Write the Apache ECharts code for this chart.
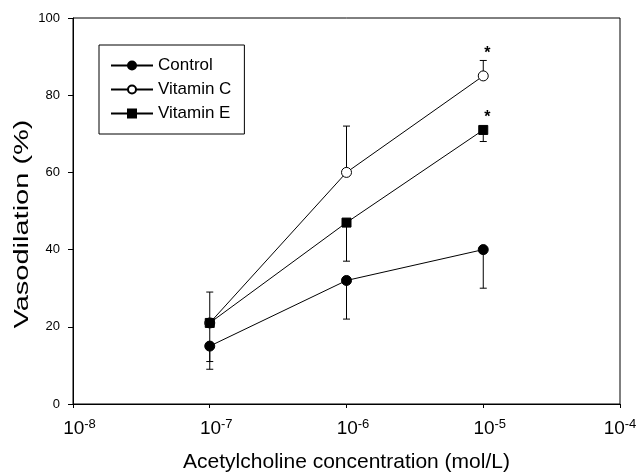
<!DOCTYPE html>
<html>
<head>
<meta charset="utf-8">
<script src="https://cdn.jsdelivr.net/npm/echarts@6/dist/echarts.min.js"></script>
<style>
html,body{margin:0;padding:0;background:#fff;}
#chart{width:639px;height:473px;}
</style>
</head>
<body>
<div id="chart"></div>
<script>
// ---- Data ----
const concentrations = [1e-7, 1e-6, 1e-5];
const controlMean = [15, 32, 40];
const controlErrDown = [6, 10, 10];
const vitCMean = [21, 60, 85];
const vitCErrUp = [8, 12, 4];
const vitEMean = [21, 47, 71];
const vitEErrDown = [10, 10, 3];
const starPoints = [[1e-5, 90.9], [1e-5, 74.1]];
const yTicks = [0, 20, 40, 60, 80, 100];
const xTickExponents = [-8, -7, -6, -5, -4];
const yTitle = 'Vasodilation (%)';
const xTitle = 'Acetylcholine concentration (mol/L)';

const FONT = '"Liberation Sans", Arial, sans-serif';

function pairs(xs, ys) { return xs.map((x, i) => [x, ys[i]]); }
function errData(xs, means, errs, dir) {
  return xs.map((x, i) => [x, means[i], means[i] + dir * errs[i]]);
}

function renderErr(params, api) {
  const p0 = api.coord([api.value(0), api.value(1)]);
  const p1 = api.coord([api.value(0), api.value(2)]);
  const hw = 3.5;
  return {
    type: 'group',
    children: [
      { type: 'line', shape: { x1: p0[0], y1: p0[1], x2: p1[0], y2: p1[1] }, style: { stroke: '#000', lineWidth: 1 } },
      { type: 'line', shape: { x1: p1[0] - hw, y1: p1[1], x2: p1[0] + hw, y2: p1[1] }, style: { stroke: '#000', lineWidth: 1 } }
    ]
  };
}

function renderStar(params, api) {
  const p = api.coord([api.value(0), api.value(1)]);
  return {
    type: 'text',
    x: p[0] + 4,
    y: p[1],
    style: {
      text: '*',
      font: 'bold 16px ' + FONT,
      fill: '#000',
      textAlign: 'center',
      textVerticalAlign: 'middle'
    }
  };
}

const lineCommon = {
  type: 'line',
  lineStyle: { color: '#000', width: 1 },
  emphasis: { disabled: true },
  animation: false,
  z: 3
};

const chart = echarts.init(document.getElementById('chart'), null, { renderer: 'canvas' });
chart.setOption({
  animation: false,
  backgroundColor: '#fff',
  textStyle: { fontFamily: FONT },
  grid: { left: 73, right: 19, top: 18, bottom: 69, show: true, borderColor: '#000', borderWidth: 1, outerBoundsMode: 'none', containLabel: false },
  legend: {
    orient: 'vertical',
    left: 99,
    top: 45,
    borderColor: '#000',
    borderWidth: 1,
    padding: [12, 13, 12, 11],
    itemGap: 7,
    itemWidth: 42,
    itemHeight: 10,
    textStyle: { fontFamily: FONT, fontSize: 17, lineHeight: 14, color: '#000' },
    data: ['Control', 'Vitamin C', 'Vitamin E'],
    selectedMode: false
  },
  graphic: [
    {
      type: 'text',
      x: 22,
      y: 224,
      rotation: Math.PI / 2,
      scaleX: 1.45,
      silent: true,
      style: {
        text: yTitle,
        font: '20px ' + FONT,
        fill: '#000',
        textAlign: 'center',
        textVerticalAlign: 'middle'
      }
    }
  ],
  xAxis: {
    type: 'log',
    logBase: 10,
    min: 1e-8,
    max: 1e-4,
    axisLine: { onZero: false, lineStyle: { color: '#000', width: 1 } },
    axisTick: { show: true, inside: false, length: 4, lineStyle: { color: '#000' } },
    minorTick: { show: false },
    splitLine: { show: false },
    axisLabel: {
      margin: 14,
      color: '#000',
      formatter: function (v) {
        const e = Math.round(Math.log10(v));
        const last = e === xTickExponents[xTickExponents.length - 1];
        return (last ? '{c|10}' : '{b|10}') + '{s|' + e + '}';
      },
      rich: {
        b: { fontFamily: FONT, fontSize: 19, color: '#000', padding: [0, 0, 0, 13], lineHeight: 20, verticalAlign: 'bottom' },
        c: { fontFamily: FONT, fontSize: 19, color: '#000', lineHeight: 20, verticalAlign: 'bottom' },
        s: { fontFamily: FONT, fontSize: 13, color: '#000', lineHeight: 20, verticalAlign: 'top' }
      }
    },
    name: xTitle,
    nameLocation: 'middle',
    nameGap: 48,
    nameTextStyle: { fontFamily: FONT, fontSize: 21, color: '#000' }
  },
  yAxis: {
    type: 'value',
    min: 0,
    max: 100,
    interval: 20,
    axisLine: { show: true, lineStyle: { color: '#000', width: 1 } },
    axisTick: { show: true, inside: false, length: 5, lineStyle: { color: '#000' } },
    splitLine: { show: false },
    axisLabel: { margin: 13, color: '#000', fontFamily: FONT, fontSize: 13 }
  },
  series: [
    Object.assign({}, lineCommon, {
      name: 'Control', symbol: 'circle', symbolSize: 10,
      itemStyle: { color: '#000', borderColor: '#000', borderWidth: 1 },
      data: pairs(concentrations, controlMean)
    }),
    Object.assign({}, lineCommon, {
      name: 'Vitamin C', symbol: 'circle', symbolSize: 10,
      itemStyle: { color: '#fff', borderColor: '#000', borderWidth: 1 },
      data: pairs(concentrations, vitCMean)
    }),
    Object.assign({}, lineCommon, {
      name: 'Vitamin E', symbol: 'rect', symbolSize: 9,
      itemStyle: { color: '#000', borderColor: '#000', borderWidth: 1 },
      data: pairs(concentrations, vitEMean)
    }),
    { type: 'custom', renderItem: renderErr, data: errData(concentrations, controlMean, controlErrDown, -1), z: 2, silent: true },
    { type: 'custom', renderItem: renderErr, data: errData(concentrations, vitCMean, vitCErrUp, 1), z: 2, silent: true },
    { type: 'custom', renderItem: renderErr, data: errData(concentrations, vitEMean, vitEErrDown, -1), z: 2, silent: true },
    { type: 'custom', renderItem: renderStar, data: starPoints, z: 4, silent: true }
  ]
});
</script>
</body>
</html>
